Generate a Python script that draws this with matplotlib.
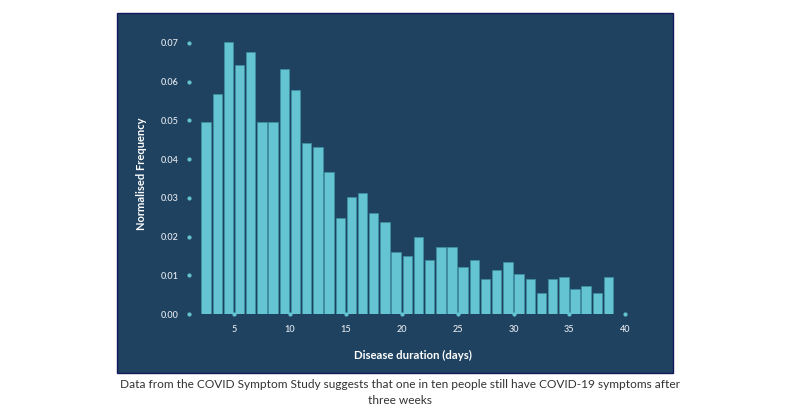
import matplotlib as mpl
mpl.use('Agg')
import matplotlib.pyplot as plt
from matplotlib.patches import Rectangle

# histogram bins: day n .. n+1
days = list(range(2, 39))
freq = [0.0496, 0.0568, 0.0703, 0.0643, 0.0675, 0.0496, 0.0496, 0.0631,
        0.0578, 0.0441, 0.0430, 0.0367, 0.0249, 0.0302, 0.0313, 0.0260,
        0.0237, 0.0160, 0.0149, 0.0198, 0.0139, 0.0173, 0.0173, 0.0121,
        0.0139, 0.0090, 0.0113, 0.0136, 0.0103, 0.0090, 0.0055, 0.0090,
        0.0097, 0.0065, 0.0073, 0.0055, 0.0097]
x_ticks = [5, 10, 15, 20, 25, 30, 35, 40]
y_ticks = [0.00, 0.01, 0.02, 0.03, 0.04, 0.05, 0.06, 0.07]

caption = ("Data from the COVID Symptom Study suggests that one in ten people still have COVID-19 symptoms after\n"
           "three weeks")

bg = '#1f4260'
bar_color = '#64c4d1'

plt.rcParams['font.family'] = ['Lato', 'DejaVu Sans']

fig = plt.figure(figsize=(8, 4.19), dpi=100)
fig.patch.set_facecolor('white')

# dark panel behind the chart
panel = Rectangle((0.14625, 0.1098), 0.695, 0.8592, transform=fig.transFigure,
                  facecolor=bg, edgecolor='#15185a', linewidth=1.0, zorder=-5)
fig.patches.append(panel)

axis = fig.add_axes([0.2366, 0.2499, 0.559, 0.6713])
axis.set_facecolor('none')
axis.set_zorder(2)

axis.bar([d + 0.5 for d in days], freq, width=0.84, color=bar_color,
         edgecolor='#3f90a3', linewidth=0.5)

axis.set_xlim(1, 41)
axis.set_ylim(0, 0.0725)
for s in axis.spines.values():
    s.set_visible(False)

axis.set_xticks(x_ticks)
axis.set_yticks(y_ticks)
axis.set_xticklabels([str(t) for t in x_ticks], fontweight='semibold')
axis.set_yticklabels(['%.2f' % t for t in y_ticks], fontweight='semibold')
axis.tick_params(axis='both', colors='#dde3ea', labelsize=6.5)
axis.tick_params(axis='x', pad=4)
axis.tick_params(axis='y', pad=4)

# ticks drawn as small dots
for tick in axis.xaxis.get_major_ticks() + axis.yaxis.get_major_ticks():
    tick.tick1line.set_marker('o')
    tick.tick1line.set_markersize(2.2)
    tick.tick1line.set_markerfacecolor(bar_color)
    tick.tick1line.set_markeredgecolor(bar_color)

axis.set_xlabel('Disease duration (days)', color='white', fontsize=8.2,
                fontweight='bold', labelpad=12)
axis.set_ylabel('Normalised Frequency', color='white', fontsize=8,
                fontweight='bold', labelpad=10)

fig.text(0.5, 0.063, caption, ha='center', va='center', fontsize=8.6,
         color='#333333', linespacing=1.6)

fig.savefig('out.png', dpi=100)
